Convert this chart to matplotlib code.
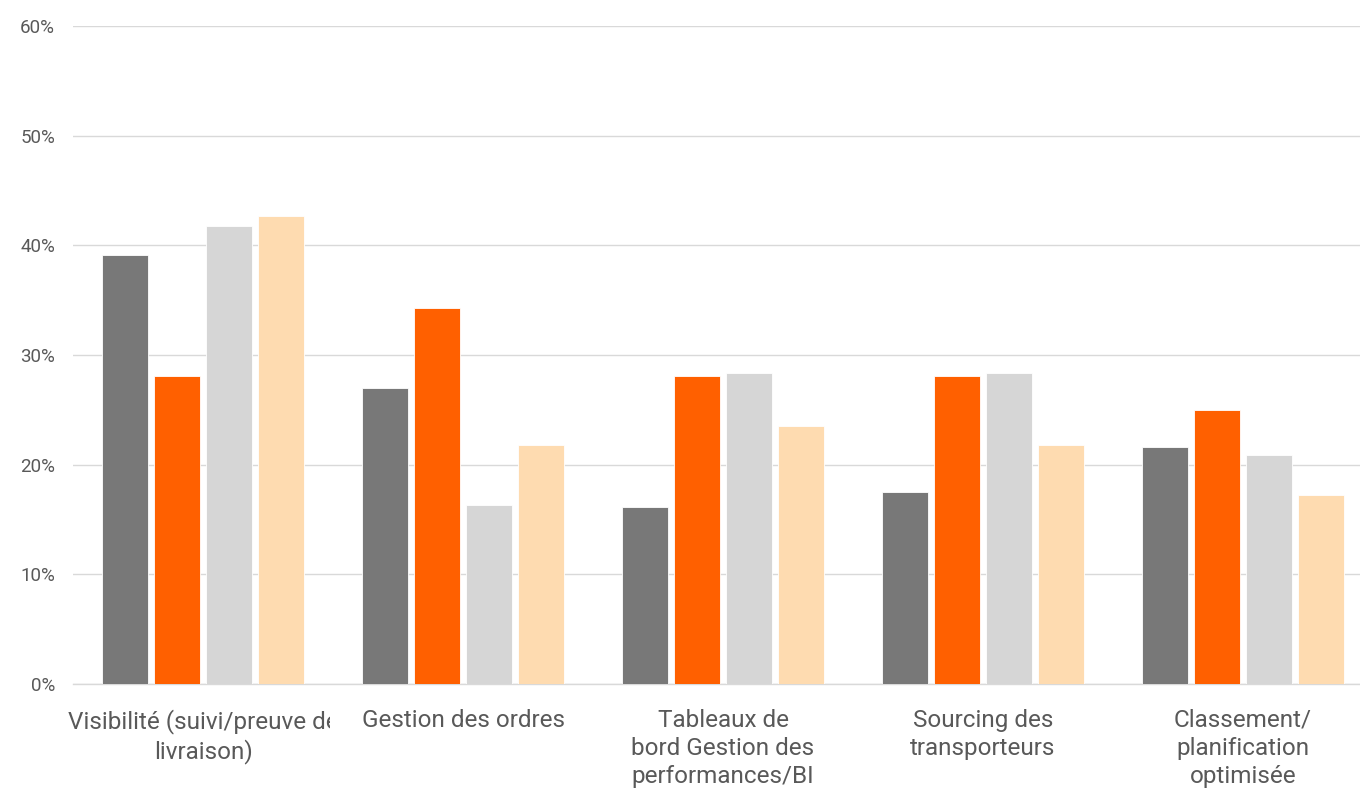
import matplotlib.pyplot as plt
import matplotlib.transforms as mtransforms
from matplotlib.patches import Rectangle
from matplotlib.ticker import FuncFormatter
import numpy as np

# Données (en %)
CATEGORIES = [
    "Visibilité (suivi/preuve de\nlivraison)",
    "Gestion des ordres",
    "Tableaux de\nbord Gestion des\nperformances/BI",
    "Sourcing des\ntransporteurs",
    "Classement/\nplanification\noptimisée",
]
SERIE_1 = [39.1, 27.0, 16.1, 17.5, 21.6]
SERIE_2 = [28.1, 34.3, 28.1, 28.1, 25.0]
SERIE_3 = [41.8, 16.3, 28.4, 28.4, 20.9]
SERIE_4 = [42.7, 21.8, 23.5, 21.8, 17.2]

COLORS = ['#787878', '#FF6000', '#D6D6D6', '#FEDBB0']
GRID = '#D9D9D9'
TEXT = '#595959'

plt.rcParams['font.family'] = ['Roboto', 'DejaVu Sans']

fig = plt.figure(figsize=(13.6, 7.93), dpi=100)
# l'axe déborde un peu à droite, comme dans l'original
ax = fig.add_axes([73 / 1360, 1 - 684 / 793, 1300 / 1360, (684 - 26) / 793])

x = np.arange(len(CATEGORIES))
width = 0.2
series = [SERIE_1, SERIE_2, SERIE_3, SERIE_4]
for k, (vals, col) in enumerate(zip(series, COLORS)):
    ax.bar(x + (k - 1.5) * width, vals, width * 0.9, color=col,
           edgecolor='white', linewidth=0.6, zorder=3)

ax.set_xlim(-0.5, len(CATEGORIES) - 0.5)
ax.set_ylim(0, 60)
ax.set_yticks(range(0, 61, 10))
ax.yaxis.set_major_formatter(FuncFormatter(lambda v, p: f"{int(v)}%"))
ax.tick_params(axis='y', length=0, labelsize=13.5, labelcolor=TEXT, pad=13)
ax.set_xticks([])
ax.grid(axis='y', color=GRID, linewidth=1, zorder=0)
for s in ['top', 'right', 'left']:
    ax.spines[s].set_visible(False)
ax.spines['bottom'].set_color(GRID)
ax.spines['bottom'].set_linewidth(1)

# libellés de catégories, coupés à droite à la largeur du groupe
trans = mtransforms.blended_transform_factory(ax.transData, fig.transFigure)
for i, label in enumerate(CATEGORIES):
    clip = Rectangle((i - 2, 0), 2.49, 1.0, transform=trans)
    t = ax.text(i, 1 - 709 / 793, label, transform=trans, ha='center', va='top',
                fontsize=17.5, color=TEXT, linespacing=1.27, multialignment='center',
                clip_on=True)
    t.set_clip_path(clip)

fig.savefig("out.png", dpi=100)
